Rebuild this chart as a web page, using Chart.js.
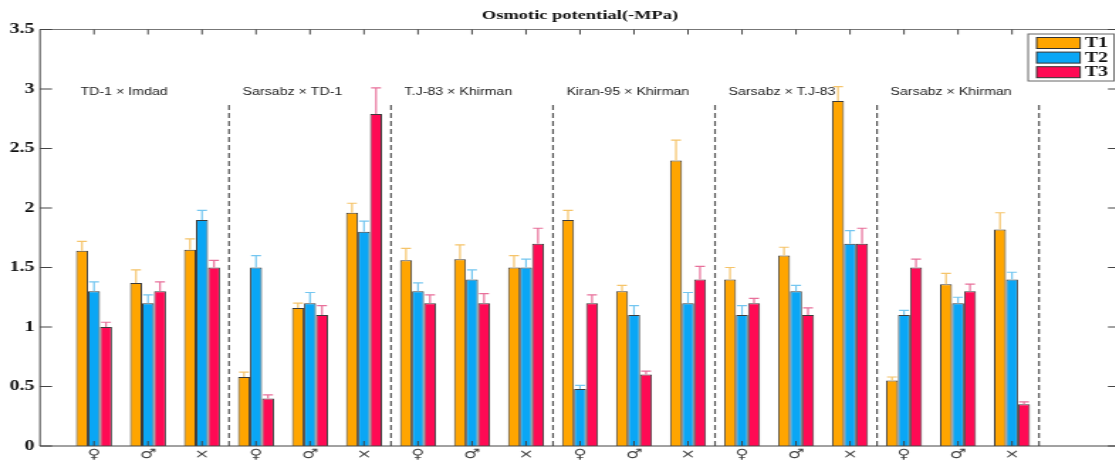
<!DOCTYPE html>
<html>
<head>
<meta charset="utf-8">
<script src="https://cdn.jsdelivr.net/npm/chart.js@4.4.1/dist/chart.umd.min.js"></script>
<style>
  html, body { margin: 0; padding: 0; background: #fff; overflow: hidden; }
  #wrap { width: 792px; height: 461px; transform: scaleX(1.42); transform-origin: 0 0; }
  canvas { display: block; }
</style>
</head>
<body>
<div id="wrap"><canvas id="chart" width="792" height="461"></canvas></div>
<script>
// the reference picture is stretched sideways, so the chart is drawn narrow and scaled by 1.42
const STRETCH = 1.42;

const crosses = ['TD-1 × Imdad', 'Sarsabz × TD-1', 'T.J-83 × Khirman', 'Kiran-95 × Khirman', 'Sarsabz × T.J-83', 'Sarsabz × Khirman'];
const sexLabels = ['♀', '♂', '×', '♀', '♂', '×', '♀', '♂', '×', '♀', '♂', '×', '♀', '♂', '×', '♀', '♂', '×'];
const yTickLabels = ['0', '0.5', '1', '1.5', '2', '2.5', '3', '3.5'];

const t1Values = [1.64, 1.37, 1.65, 0.58, 1.16, 1.96, 1.56, 1.57, 1.50, 1.90, 1.30, 2.40, 1.40, 1.60, 2.90, 0.55, 1.36, 1.82];
const t1Err    = [0.08, 0.11, 0.09, 0.04, 0.04, 0.08, 0.10, 0.12, 0.10, 0.08, 0.05, 0.17, 0.10, 0.07, 0.12, 0.03, 0.09, 0.14];
const t2Values = [1.30, 1.20, 1.90, 1.50, 1.20, 1.80, 1.30, 1.40, 1.50, 0.48, 1.10, 1.20, 1.10, 1.30, 1.70, 1.10, 1.20, 1.40];
const t2Err    = [0.08, 0.07, 0.08, 0.10, 0.09, 0.09, 0.07, 0.08, 0.07, 0.03, 0.08, 0.09, 0.08, 0.05, 0.11, 0.04, 0.05, 0.06];
const t3Values = [1.00, 1.30, 1.50, 0.40, 1.10, 2.79, 1.20, 1.20, 1.70, 1.20, 0.60, 1.40, 1.20, 1.10, 1.70, 1.50, 1.30, 0.35];
const t3Err    = [0.04, 0.08, 0.06, 0.03, 0.08, 0.22, 0.07, 0.08, 0.13, 0.07, 0.03, 0.11, 0.04, 0.06, 0.13, 0.07, 0.06, 0.02];

const barColors = ['#FFA500', '#0AA6F5', '#FF0A54'];
const errColors = ['#F5C46A', '#74C6F0', '#E8709A'];

const AXIS_LEFT = 40 / STRETCH;
const AXIS_RIGHT = 1120 / STRETCH;

const toPoints = (values) => values.map((v, i) => ({ x: i + 1, y: v }));

const errorBars = {
  id: 'errorBars',
  afterDatasetsDraw(chart) {
    const ctx = chart.ctx;
    const y = chart.scales.y;
    chart.data.datasets.forEach((ds, i) => {
      const meta = chart.getDatasetMeta(i);
      ctx.save();
      ctx.strokeStyle = errColors[i];
      ctx.lineWidth = 1.2;
      meta.data.forEach((bar, j) => {
        const top = y.getPixelForValue(ds.data[j].y + ds.errors[j]);
        ctx.beginPath();
        ctx.moveTo(bar.x, bar.y);
        ctx.lineTo(bar.x, top);
        ctx.moveTo(bar.x - 3.5, top);
        ctx.lineTo(bar.x + 3.5, top);
        ctx.stroke();
      });
      ctx.restore();
    });
  }
};

const frameAndDecor = {
  id: 'frameAndDecor',
  afterDraw(chart) {
    const ctx = chart.ctx;
    const { left, right, top, bottom } = chart.chartArea;
    const x = chart.scales.x, y = chart.scales.y;
    ctx.save();

    // group separators
    ctx.strokeStyle = '#555';
    ctx.lineWidth = 1.2;
    ctx.setLineDash([5, 3]);
    for (let k = 1; k <= crosses.length; k++) {
      const px = x.getPixelForValue(3 * k + 0.5);
      ctx.beginPath();
      ctx.moveTo(px, y.getPixelForValue(0));
      ctx.lineTo(px, y.getPixelForValue(2.89));
      ctx.stroke();
    }
    ctx.setLineDash([]);

    // group names
    ctx.fillStyle = '#222';
    ctx.font = '10px "Liberation Sans", Arial, sans-serif';
    ctx.textAlign = 'left';
    ctx.textBaseline = 'middle';
    crosses.forEach((name, k) => {
      ctx.fillText(name, x.getPixelForValue(3 * k + 0.75), y.getPixelForValue(2.97));
    });

    // box and inward ticks
    ctx.strokeStyle = '#777';
    ctx.lineWidth = 1;
    ctx.beginPath();
    ctx.moveTo(left, top); ctx.lineTo(right, top); ctx.lineTo(right, bottom);
    ctx.stroke();
    ctx.strokeStyle = '#444';
    ctx.beginPath();
    ctx.moveTo(left, top); ctx.lineTo(left, bottom); ctx.lineTo(right, bottom);
    ctx.stroke();
    ctx.beginPath();
    x.ticks.forEach(t => {
      const px = x.getPixelForValue(t.value);
      ctx.moveTo(px, top); ctx.lineTo(px, top + 5);
      ctx.moveTo(px, bottom); ctx.lineTo(px, bottom - 5);
    });
    y.ticks.forEach(t => {
      const py = y.getPixelForValue(t.value);
      ctx.moveTo(left, py); ctx.lineTo(left + 8.5, py);
      ctx.moveTo(right, py); ctx.lineTo(right - 8.5, py);
    });
    ctx.stroke();

    // title
    ctx.fillStyle = '#111';
    ctx.font = 'bold 13px "Liberation Serif", "Times New Roman", serif';
    ctx.textAlign = 'center';
    ctx.fillText('Osmotic potential(-MPa)', (left + right) / 2, 16);

    // legend
    const lx = right - 64.7, ly = 34;
    ctx.fillStyle = '#fff';
    ctx.fillRect(lx, ly, 60.5, 47);
    ctx.strokeStyle = '#666';
    ctx.strokeRect(lx, ly, 60.5, 47);
    ctx.textAlign = 'left';
    ctx.font = 'bold 14px "Liberation Serif", "Times New Roman", serif';
    chart.data.datasets.forEach((ds, i) => {
      const py = ly + 3.5 + i * 14.6;
      ctx.fillStyle = barColors[i];
      ctx.fillRect(lx + 6, py, 30.6, 11);
      ctx.strokeStyle = '#333';
      ctx.strokeRect(lx + 6, py, 30.6, 11);
      ctx.fillStyle = '#111';
      ctx.fillText(ds.label, lx + 40, py + 6);
    });
    ctx.restore();
  }
};

const makeSet = (label, values, errors, i) => ({
  label: label,
  data: toPoints(values),
  errors: errors,
  backgroundColor: barColors[i],
  borderColor: '#3b3b3b',
  borderWidth: 1,
  borderSkipped: 'bottom',
  categoryPercentage: 0.667,
  barPercentage: 1.0
});

new Chart(document.getElementById('chart'), {
  type: 'bar',
  data: {
    datasets: [
      makeSet('T1', t1Values, t1Err, 0),
      makeSet('T2', t2Values, t2Err, 1),
      makeSet('T3', t3Values, t3Err, 2)
    ]
  },
  options: {
    responsive: false,
    animation: false,
    devicePixelRatio: 1,
    layout: { padding: { top: 29.5, right: 792 - AXIS_RIGHT, bottom: 0, left: 0 } },
    plugins: { legend: { display: false }, title: { display: false }, tooltip: { enabled: false } },
    scales: {
      x: {
        type: 'linear',
        min: 0,
        max: 20,
        offset: false,
        grid: { display: false, drawTicks: false },
        border: { display: false },
        afterBuildTicks: s => { s.ticks = sexLabels.map((_, i) => ({ value: i + 1 })); },
        afterFit: s => { s.height = 15; },
        ticks: {
          autoSkip: false,
          maxRotation: 0,
          padding: 1,
          color: '#444',
          font: { family: '"DejaVu Sans", sans-serif', size: 13 },
          callback: v => sexLabels[v - 1]
        }
      },
      y: {
        min: 0,
        max: 3.5,
        grid: { display: false, drawTicks: false },
        border: { display: false },
        afterBuildTicks: s => { s.ticks = yTickLabels.map(l => ({ value: parseFloat(l) })); },
        afterFit: s => { s.width = AXIS_LEFT; },
        ticks: {
          padding: 4,
          color: '#111',
          font: { family: '"Liberation Serif", "Times New Roman", serif', size: 14, weight: 'bold' },
          callback: (v, i) => yTickLabels[i]
        }
      }
    }
  },
  plugins: [errorBars, frameAndDecor]
});
</script>
</body>
</html>
